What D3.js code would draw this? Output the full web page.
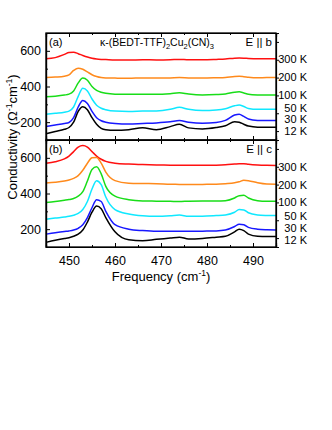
<!DOCTYPE html>
<html><head><meta charset="utf-8">
<script src="https://cdn.jsdelivr.net/npm/d3@7"></script>
<style>
html,body{margin:0;padding:0;background:#fff;}
svg{display:block;font-family:"Liberation Sans",Arial,sans-serif;}
</style></head>
<body><svg id="c" width="332" height="430"></svg>
<script>
const freq = [445,447,449,450,451,452,453,454,455,456,457,458,460,463,466,469,472,474,476,479,482,484,486,487,488,489,491,493,495];
const temps = ["300 K","200 K","100 K","50 K","30 K","12 K"];
const colors = ["#ff1010","#ff8a1c","#18dd18","#10e8ff","#1818ff","#000000"];

// Panel (a) E || b
const a300 = [556,562,580,591,592,584,574,565,558,554,552,551,549,548,550,549,550,552,550,550,552,554,559,560,559,557,555,556,556];
const a200 = [450,453,458,465,490,503,497,482,466,456,450,448,447,446,448,447,448,450,448,447,449,451,456,457,455,452,449,450,450];
const a100 = [343,346,352,357,375,420,447,435,400,378,368,362,357,356,357,356,360,365,358,353,355,358,368,370,364,357,353,352,352];
const a50  = [244,250,256,262,285,345,390,375,330,295,278,270,262,260,262,263,272,283,272,265,268,275,292,296,288,277,272,272,272];
const a30  = [176,184,192,198,225,285,322,305,260,225,208,200,193,190,193,196,202,209,200,194,198,210,240,245,232,218,210,209,209];
const a12  = [135,148,160,170,200,260,286,270,225,188,165,157,154,158,168,158,175,188,168,162,170,180,203,200,188,178,172,172,172];

// Panel (b) E || c
const b300 = [570,578,594,610,635,660,669,660,635,610,592,580,570,565,562,560,559,558,558,558,559,561,565,567,567,564,560,558,557];
const b200 = [459,463,470,476,485,500,530,570,600,602,570,520,472,458,456,455,452,451,450,451,452,455,460,466,474,472,460,453,452];
const b100 = [350,355,362,366,372,385,410,470,535,550,510,440,385,365,358,357,356,355,357,358,358,360,375,388,390,375,360,357,357];
const b50  = [255,262,268,272,278,288,310,355,425,472,450,380,310,285,275,272,275,279,272,273,276,280,295,310,308,292,280,277,276];
const b30  = [172,180,187,190,195,205,225,265,320,365,355,300,225,200,192,188,188,189,188,189,190,195,215,228,225,210,200,197,196];
const b12  = [126,138,148,152,160,172,195,240,295,330,315,265,185,140,135,143,150,155,145,148,155,160,185,200,192,172,160,159,159];

const labelValsA = [557,451,354,279,219,153];
const labelValsB = [550,447,350,272,206,141];
const xTicks = [450,460,470,480,490];
const yTicks = [200,400,600];

const svg = d3.select("#c");
const L=46, R=276;
const x = d3.scaleLinear().domain([445,495]).range([L,R]);
const panels = [
  {top:33, bottom:140, series:[a300,a200,a100,a50,a30,a12], labels:labelValsA, tag:"(a)", pol:"b", title:true},
  {top:140, bottom:247, series:[b300,b200,b100,b50,b30,b12], labels:labelValsB, tag:"(b)", pol:"c", title:false}
];

panels.forEach((p,pi)=>{
  const y = d3.scaleLinear().domain([100,700]).range([p.bottom,p.top]);
  const g = svg.append("g");
  const line = d3.line().x((d,i)=>x(freq[i])).y(d=>y(d)).curve(d3.curveMonotoneX);
  p.series.forEach((s,i)=>{
    g.append("path").attr("d",line(s)).attr("fill","none")
      .attr("stroke",colors[i]).attr("stroke-width",1.5);
  });
  // axes (inward ticks)
  const minorX = d3.range(445,496,5);
  const minorY = d3.range(100,701,100);
  const bx = d3.axisTop(x).tickValues(minorX).tickSize(0).tickFormat("");
  // bottom
  const bottomAxis = g.append("g").attr("transform",`translate(0,${p.bottom})`);
  bottomAxis.call(d3.axisTop(x).tickValues(minorX.filter(v=>v%10!==0)).tickSize(2).tickFormat(""));
  bottomAxis.call(g2=>g2.append("g").call(d3.axisTop(x).tickValues(xTicks).tickSize(4).tickFormat("")));
  if(pi===1){
    svg.append("g").attr("transform",`translate(0,${p.bottom})`)
      .call(d3.axisBottom(x).tickValues(xTicks).tickSize(0).tickPadding(9))
      .call(a=>a.select(".domain").remove())
      .selectAll("text").attr("font-size","12.5px").attr("fill","#000").attr("font-family","Liberation Sans, Arial, sans-serif");
  }
  // top
  const topAxis = g.append("g").attr("transform",`translate(0,${p.top})`);
  topAxis.call(d3.axisBottom(x).tickValues(minorX.filter(v=>v%10!==0)).tickSize(2).tickFormat(""));
  topAxis.append("g").call(d3.axisBottom(x).tickValues(xTicks).tickSize(4).tickFormat(""));
  // left
  const leftAxis = g.append("g").attr("transform",`translate(${L},0)`);
  leftAxis.call(d3.axisRight(y).tickValues(minorY.filter(v=>!yTicks.includes(v))).tickSize(2).tickFormat(""));
  leftAxis.append("g").call(d3.axisRight(y).tickValues(yTicks).tickSize(4).tickFormat(""));
  svg.append("g").attr("transform",`translate(${L},0)`)
    .call(d3.axisLeft(y).tickValues(yTicks).tickSize(0).tickPadding(5))
    .call(a=>a.select(".domain").remove())
    .selectAll("text").attr("font-size","12.5px").attr("fill","#000").attr("font-family","Liberation Sans, Arial, sans-serif");
  // right
  const rightAxis = g.append("g").attr("transform",`translate(${R},0)`);
  rightAxis.call(d3.axisRight(y).tickValues(d3.range(150,700,100)).tickSize(3).tickFormat(""));
  g.selectAll(".domain").attr("stroke","#000").attr("stroke-width",1.2);
  g.selectAll(".tick line").attr("stroke","#000").attr("stroke-width",1);
  // frame
  g.append("rect").attr("x",L).attr("y",p.top).attr("width",R-L).attr("height",p.bottom-p.top)
    .attr("fill","none").attr("stroke","#000").attr("stroke-width",1.3);
  // temperature labels
  p.labels.forEach((v,i)=>{
    svg.append("text").attr("x",307).attr("y",y(v)+4).attr("text-anchor","end")
      .attr("font-size","11px").attr("fill","#000").text(temps[i]);
  });
  // panel tag
  svg.append("text").attr("x",49).attr("y",p.top+13).attr("font-size","11px").attr("fill","#000").text(p.tag);
  const pol = svg.append("text").attr("x",272).attr("y",p.top+13).attr("text-anchor","end").attr("font-size","11.5px").attr("fill","#000");
  pol.append("tspan").text("E || "+p.pol);
  if(p.title){
    const t = svg.append("text").attr("x",157).attr("y",p.top+13).attr("text-anchor","middle").attr("font-size","10.5px").attr("fill","#000");
    t.append("tspan").text("κ-(BEDT-TTF)");
    t.append("tspan").attr("font-size","7.5px").attr("dy",3).text("2");
    t.append("tspan").attr("dy",-3).text("Cu");
    t.append("tspan").attr("font-size","7.5px").attr("dy",3).text("2");
    t.append("tspan").attr("dy",-3).text("(CN)");
    t.append("tspan").attr("font-size","7.5px").attr("dy",3).text("3");
  }
});

// axis titles
const xl = svg.append("text").attr("x",161).attr("y",281).attr("text-anchor","middle").attr("font-size","13px").attr("fill","#000");
xl.append("tspan").text("Frequency (cm");
xl.append("tspan").attr("font-size","8.5px").attr("dy",-5).text("-1");
xl.append("tspan").attr("dy",5).text(")");

const yl = svg.append("text").attr("transform","translate(17,137) rotate(-90)").attr("text-anchor","middle").attr("font-size","13px").attr("fill","#000");
yl.append("tspan").text("Conductivity (Ω");
yl.append("tspan").attr("font-size","8.5px").attr("dy",-5).text("-1");
yl.append("tspan").attr("dy",5).text("cm");
yl.append("tspan").attr("font-size","8.5px").attr("dy",-5).text("-1");
yl.append("tspan").attr("dy",5).text(")");
</script></body></html>
